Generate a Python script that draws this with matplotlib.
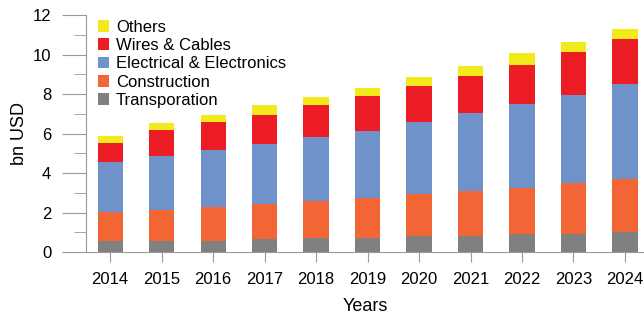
import matplotlib
matplotlib.use('Agg')
import matplotlib.pyplot as plt
import numpy as np

plt.rcParams['font.family'] = ['Liberation Sans', 'DejaVu Sans']

# DADOS (bn USD)
anos = ['2014', '2015', '2016', '2017', '2018', '2019', '2020', '2021', '2022', '2023', '2024']
transporation = [0.57, 0.54, 0.57, 0.66, 0.70, 0.73, 0.80, 0.83, 0.92, 0.93, 1.02]
construction = [1.45, 1.61, 1.73, 1.76, 1.88, 2.02, 2.13, 2.25, 2.33, 2.58, 2.69]
electrical = [2.56, 2.70, 2.89, 3.05, 3.27, 3.39, 3.68, 3.94, 4.24, 4.42, 4.80]
wires = [0.96, 1.35, 1.41, 1.48, 1.59, 1.74, 1.81, 1.91, 2.00, 2.19, 2.30]
others = [0.32, 0.36, 0.33, 0.51, 0.42, 0.42, 0.43, 0.51, 0.61, 0.51, 0.51]

series = [
    ('Transporation', transporation, '#808080'),
    ('Construction', construction, '#F26635'),
    ('Electrical & Electronics', electrical, '#7092CB'),
    ('Wires & Cables', wires, '#EC1C24'),
    ('Others', others, '#F2EA1B'),
]

fig = plt.figure(figsize=(6.44, 3.14), dpi=100)
ax = fig.add_axes([0.1335, 0.197, 0.8665, 0.755])

x = np.arange(len(anos))
base = np.zeros(len(anos))
handles = []
for nome, valores, cor in series:
    b = ax.bar(x, valores, 0.49, bottom=base, color=cor, label=nome)
    handles.append(b)
    base = base + np.array(valores)

ax.set_xlim(-0.47, 10.37)
ax.set_ylim(0, 12)
ax.set_xticks(x)
ax.set_xticklabels(anos, fontsize=12)
ax.set_yticks(np.arange(0, 13, 2))
ax.set_yticks(np.arange(1, 12, 2), minor=True)
ax.tick_params(axis='y', which='major', length=17, color='#999999', labelsize=12, pad=8)
ax.tick_params(axis='y', which='minor', length=9, color='#999999')
ax.tick_params(axis='x', length=7, color='#999999', pad=7)

for s in ['top', 'right']:
    ax.spines[s].set_visible(False)
for s in ['left', 'bottom']:
    ax.spines[s].set_color('#999999')

ax.set_ylabel('bn USD', fontsize=13, labelpad=3)
ax.set_xlabel('Years', fontsize=13, labelpad=8)

ax.legend(handles[::-1], [s[0] for s in series][::-1], loc='upper left',
          bbox_to_anchor=(0.0, 1.03), frameon=False, fontsize=12,
          handlelength=0.7, handleheight=0.7, labelspacing=0.2, handletextpad=0.4,
          borderaxespad=0.3)

fig.savefig('out.png', dpi=100)
